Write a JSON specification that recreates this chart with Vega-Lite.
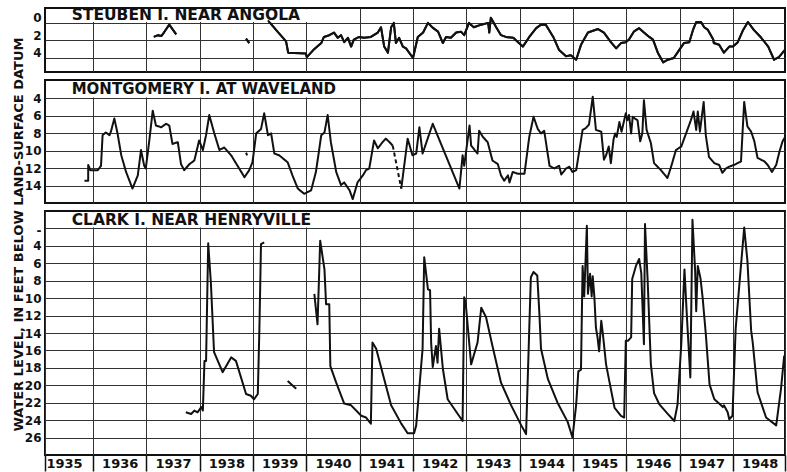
{
  "$schema": "https://vega.github.io/schema/vega-lite/v6.json",
  "background": "white",
  "padding": {"left": 10, "top": 7, "right": 3, "bottom": 0},
  "bounds": "flush",
  "spacing": 8,
  "config": {
    "view": {"stroke": "#111", "strokeWidth": 2},
    "axis": {"grid": true, "gridColor": "#333", "gridWidth": 1, "gridOpacity": 1, "labelFont": "DejaVu Sans", "labelFontWeight": "bold", "labelColor": "#111", "labelFontSize": 12, "titleFont": "DejaVu Sans", "titleColor": "#111", "labelOverlap": false}
  },
  "datasets": {
    "steuben": [
      {"year": 1937.14, "depth": 1.6, "seg": "a"}, {"year": 1937.22, "depth": 1.4, "seg": "a"}, {"year": 1937.28, "depth": 1.5, "seg": "a"}, {"year": 1937.33, "depth": 1.1, "seg": "a"}, {"year": 1937.43, "depth": 0.2, "seg": "a"}, {"year": 1937.50, "depth": 0.8, "seg": "a"}, {"year": 1937.56, "depth": 1.3, "seg": "a"},
      {"year": 1938.87, "depth": 1.8, "seg": "b"}, {"year": 1938.93, "depth": 2.3, "seg": "b"},
      {"year": 1939.28, "depth": -0.3, "seg": "c"}, {"year": 1939.46, "depth": 1.0, "seg": "c"}, {"year": 1939.62, "depth": 2.1, "seg": "c"}, {"year": 1939.66, "depth": 3.4, "seg": "c"}, {"year": 1939.99, "depth": 3.5, "seg": "c"}, {"year": 1940.01, "depth": 3.9, "seg": "c"},
      {"year": 1940.13, "depth": 3.1, "seg": "c"}, {"year": 1940.28, "depth": 2.3, "seg": "c"}, {"year": 1940.33, "depth": 1.6, "seg": "c"}, {"year": 1940.43, "depth": 1.4, "seg": "c"}, {"year": 1940.52, "depth": 1.1, "seg": "c"}, {"year": 1940.59, "depth": 1.7, "seg": "c"}, {"year": 1940.65, "depth": 1.4, "seg": "c"}, {"year": 1940.71, "depth": 2.2, "seg": "c"}, {"year": 1940.78, "depth": 1.7, "seg": "c"}, {"year": 1940.84, "depth": 2.7, "seg": "c"}, {"year": 1940.89, "depth": 1.9, "seg": "c"}, {"year": 1940.99, "depth": 1.6, "seg": "c"},
      {"year": 1941.08, "depth": 1.7, "seg": "c"}, {"year": 1941.21, "depth": 1.6, "seg": "c"}, {"year": 1941.34, "depth": 1.1, "seg": "c"}, {"year": 1941.40, "depth": 0.5, "seg": "c"}, {"year": 1941.46, "depth": 2.7, "seg": "c"}, {"year": 1941.53, "depth": 3.4, "seg": "c"}, {"year": 1941.59, "depth": 0.5, "seg": "c"}, {"year": 1941.64, "depth": 0.0, "seg": "c"}, {"year": 1941.68, "depth": 2.3, "seg": "c"}, {"year": 1941.74, "depth": 1.7, "seg": "c"}, {"year": 1941.81, "depth": 2.7, "seg": "c"}, {"year": 1941.87, "depth": 2.9, "seg": "c"},
      {"year": 1942.00, "depth": 4.0, "seg": "c"}, {"year": 1942.09, "depth": 1.6, "seg": "c"}, {"year": 1942.19, "depth": 1.1, "seg": "c"}, {"year": 1942.28, "depth": 0.0, "seg": "c"}, {"year": 1942.38, "depth": 0.6, "seg": "c"}, {"year": 1942.47, "depth": 1.0, "seg": "c"}, {"year": 1942.56, "depth": 2.3, "seg": "c"}, {"year": 1942.62, "depth": 1.6, "seg": "c"}, {"year": 1942.71, "depth": 1.7, "seg": "c"}, {"year": 1942.81, "depth": 1.1, "seg": "c"}, {"year": 1942.90, "depth": 1.0, "seg": "c"}, {"year": 1942.96, "depth": 1.4, "seg": "c"},
      {"year": 1943.05, "depth": 0.0, "seg": "c"}, {"year": 1943.14, "depth": 0.5, "seg": "c"}, {"year": 1943.28, "depth": 0.2, "seg": "c"}, {"year": 1943.41, "depth": 0.0, "seg": "c"}, {"year": 1943.43, "depth": 1.1, "seg": "c"}, {"year": 1943.46, "depth": -0.6, "seg": "c"}, {"year": 1943.56, "depth": 0.5, "seg": "c"}, {"year": 1943.65, "depth": 1.4, "seg": "c"}, {"year": 1943.74, "depth": 1.6, "seg": "c"}, {"year": 1943.88, "depth": 1.7, "seg": "c"}, {"year": 1943.97, "depth": 2.2, "seg": "c"},
      {"year": 1944.06, "depth": 2.7, "seg": "c"}, {"year": 1944.18, "depth": 1.6, "seg": "c"}, {"year": 1944.31, "depth": 0.6, "seg": "c"}, {"year": 1944.40, "depth": 0.2, "seg": "c"}, {"year": 1944.49, "depth": 0.2, "seg": "c"}, {"year": 1944.63, "depth": 1.6, "seg": "c"}, {"year": 1944.74, "depth": 3.1, "seg": "c"}, {"year": 1944.87, "depth": 3.8, "seg": "c"}, {"year": 1944.96, "depth": 3.7, "seg": "c"},
      {"year": 1945.06, "depth": 4.2, "seg": "c"}, {"year": 1945.15, "depth": 2.5, "seg": "c"}, {"year": 1945.28, "depth": 1.1, "seg": "c"}, {"year": 1945.47, "depth": 0.7, "seg": "c"}, {"year": 1945.58, "depth": 1.1, "seg": "c"}, {"year": 1945.71, "depth": 2.2, "seg": "c"}, {"year": 1945.81, "depth": 2.9, "seg": "c"}, {"year": 1945.90, "depth": 2.3, "seg": "c"}, {"year": 1945.99, "depth": 2.2, "seg": "c"},
      {"year": 1946.05, "depth": 1.9, "seg": "c"}, {"year": 1946.14, "depth": 1.0, "seg": "c"}, {"year": 1946.24, "depth": 0.6, "seg": "c"}, {"year": 1946.33, "depth": 1.1, "seg": "c"}, {"year": 1946.43, "depth": 1.6, "seg": "c"}, {"year": 1946.50, "depth": 1.9, "seg": "c"}, {"year": 1946.59, "depth": 3.4, "seg": "c"}, {"year": 1946.69, "depth": 4.5, "seg": "c"}, {"year": 1946.78, "depth": 4.2, "seg": "c"}, {"year": 1946.89, "depth": 4.0, "seg": "c"}, {"year": 1946.99, "depth": 3.1, "seg": "c"},
      {"year": 1947.08, "depth": 2.3, "seg": "c"}, {"year": 1947.18, "depth": 2.2, "seg": "c"}, {"year": 1947.25, "depth": 0.8, "seg": "c"}, {"year": 1947.31, "depth": -0.1, "seg": "c"}, {"year": 1947.40, "depth": -0.1, "seg": "c"}, {"year": 1947.46, "depth": 0.5, "seg": "c"}, {"year": 1947.53, "depth": 0.8, "seg": "c"}, {"year": 1947.63, "depth": 1.9, "seg": "c"}, {"year": 1947.64, "depth": 2.3, "seg": "c"}, {"year": 1947.74, "depth": 2.5, "seg": "c"}, {"year": 1947.83, "depth": 3.4, "seg": "c"}, {"year": 1947.93, "depth": 2.7, "seg": "c"},
      {"year": 1948.00, "depth": 2.7, "seg": "c"}, {"year": 1948.09, "depth": 2.2, "seg": "c"}, {"year": 1948.19, "depth": 0.8, "seg": "c"}, {"year": 1948.28, "depth": -0.1, "seg": "c"}, {"year": 1948.39, "depth": 0.8, "seg": "c"}, {"year": 1948.53, "depth": 1.7, "seg": "c"}, {"year": 1948.66, "depth": 2.7, "seg": "c"}, {"year": 1948.77, "depth": 4.2, "seg": "c"}, {"year": 1948.86, "depth": 3.9, "seg": "c"}, {"year": 1948.97, "depth": 3.1, "seg": "c"}
    ],
    "montgomery": [
      {"year": 1935.84, "depth": 13.4, "seg": "a", "kind": "measured"}, {"year": 1935.91, "depth": 13.4, "seg": "a", "kind": "measured"}, {"year": 1935.91, "depth": 11.6, "seg": "a", "kind": "measured"}, {"year": 1935.95, "depth": 12.2, "seg": "a", "kind": "measured"},
      {"year": 1936.09, "depth": 12.2, "seg": "a", "kind": "measured"}, {"year": 1936.15, "depth": 11.7, "seg": "a", "kind": "measured"}, {"year": 1936.18, "depth": 8.2, "seg": "a", "kind": "measured"}, {"year": 1936.24, "depth": 7.9, "seg": "a", "kind": "measured"}, {"year": 1936.31, "depth": 8.2, "seg": "a", "kind": "measured"}, {"year": 1936.34, "depth": 7.7, "seg": "a", "kind": "measured"}, {"year": 1936.40, "depth": 6.3, "seg": "a", "kind": "measured"}, {"year": 1936.46, "depth": 8.0, "seg": "a", "kind": "measured"}, {"year": 1936.53, "depth": 10.5, "seg": "a", "kind": "measured"}, {"year": 1936.62, "depth": 12.4, "seg": "a", "kind": "measured"}, {"year": 1936.74, "depth": 14.3, "seg": "a", "kind": "measured"}, {"year": 1936.84, "depth": 12.8, "seg": "a", "kind": "measured"}, {"year": 1936.90, "depth": 9.9, "seg": "a", "kind": "measured"}, {"year": 1936.96, "depth": 11.7, "seg": "a", "kind": "measured"}, {"year": 1936.99, "depth": 12.0, "seg": "a", "kind": "measured"},
      {"year": 1937.06, "depth": 8.6, "seg": "a", "kind": "measured"}, {"year": 1937.12, "depth": 5.4, "seg": "a", "kind": "measured"}, {"year": 1937.18, "depth": 7.1, "seg": "a", "kind": "measured"}, {"year": 1937.28, "depth": 7.3, "seg": "a", "kind": "measured"}, {"year": 1937.37, "depth": 6.9, "seg": "a", "kind": "measured"}, {"year": 1937.43, "depth": 7.1, "seg": "a", "kind": "measured"}, {"year": 1937.49, "depth": 9.2, "seg": "a", "kind": "measured"}, {"year": 1937.59, "depth": 9.0, "seg": "a", "kind": "measured"}, {"year": 1937.65, "depth": 11.5, "seg": "a", "kind": "measured"}, {"year": 1937.71, "depth": 12.2, "seg": "a", "kind": "measured"}, {"year": 1937.81, "depth": 11.5, "seg": "a", "kind": "measured"}, {"year": 1937.90, "depth": 11.1, "seg": "a", "kind": "measured"}, {"year": 1937.99, "depth": 8.8, "seg": "a", "kind": "measured"},
      {"year": 1938.06, "depth": 9.9, "seg": "a", "kind": "measured"}, {"year": 1938.12, "depth": 8.2, "seg": "a", "kind": "measured"}, {"year": 1938.18, "depth": 5.9, "seg": "a", "kind": "measured"}, {"year": 1938.27, "depth": 7.9, "seg": "a", "kind": "measured"}, {"year": 1938.37, "depth": 9.9, "seg": "a", "kind": "measured"}, {"year": 1938.46, "depth": 9.6, "seg": "a", "kind": "measured"}, {"year": 1938.59, "depth": 10.5, "seg": "a", "kind": "measured"}, {"year": 1938.71, "depth": 11.7, "seg": "a", "kind": "measured"}, {"year": 1938.84, "depth": 13.0, "seg": "a", "kind": "measured"}, {"year": 1938.93, "depth": 12.2, "seg": "a", "kind": "measured"}, {"year": 1938.99, "depth": 11.3, "seg": "a", "kind": "measured"},
      {"year": 1939.06, "depth": 8.0, "seg": "a", "kind": "measured"}, {"year": 1939.15, "depth": 7.5, "seg": "a", "kind": "measured"}, {"year": 1939.21, "depth": 5.7, "seg": "a", "kind": "measured"}, {"year": 1939.28, "depth": 8.2, "seg": "a", "kind": "measured"}, {"year": 1939.34, "depth": 8.0, "seg": "a", "kind": "measured"}, {"year": 1939.40, "depth": 10.3, "seg": "a", "kind": "measured"}, {"year": 1939.49, "depth": 10.5, "seg": "a", "kind": "measured"}, {"year": 1939.65, "depth": 11.3, "seg": "a", "kind": "measured"}, {"year": 1939.74, "depth": 12.8, "seg": "a", "kind": "measured"}, {"year": 1939.84, "depth": 14.3, "seg": "a", "kind": "measured"}, {"year": 1939.96, "depth": 14.9, "seg": "a", "kind": "measured"},
      {"year": 1940.09, "depth": 14.5, "seg": "a", "kind": "measured"}, {"year": 1940.18, "depth": 12.4, "seg": "a", "kind": "measured"}, {"year": 1940.28, "depth": 8.2, "seg": "a", "kind": "measured"}, {"year": 1940.34, "depth": 7.9, "seg": "a", "kind": "measured"}, {"year": 1940.40, "depth": 5.9, "seg": "a", "kind": "measured"}, {"year": 1940.46, "depth": 9.0, "seg": "a", "kind": "measured"}, {"year": 1940.56, "depth": 12.4, "seg": "a", "kind": "measured"}, {"year": 1940.65, "depth": 13.9, "seg": "a", "kind": "measured"}, {"year": 1940.71, "depth": 13.6, "seg": "a", "kind": "measured"}, {"year": 1940.81, "depth": 14.5, "seg": "a", "kind": "measured"}, {"year": 1940.87, "depth": 15.5, "seg": "a", "kind": "measured"}, {"year": 1940.96, "depth": 13.6, "seg": "a", "kind": "measured"},
      {"year": 1941.06, "depth": 12.8, "seg": "a", "kind": "measured"}, {"year": 1941.12, "depth": 12.2, "seg": "a", "kind": "measured"}, {"year": 1941.18, "depth": 12.0, "seg": "a", "kind": "measured"}, {"year": 1941.27, "depth": 8.8, "seg": "a", "kind": "measured"}, {"year": 1941.34, "depth": 9.7, "seg": "a", "kind": "measured"}, {"year": 1941.43, "depth": 9.0, "seg": "a", "kind": "measured"}, {"year": 1941.49, "depth": 8.6, "seg": "a", "kind": "measured"}, {"year": 1941.56, "depth": 9.0, "seg": "a", "kind": "measured"}, {"year": 1941.62, "depth": 9.4, "seg": "a", "kind": "measured"},
      {"year": 1941.62, "depth": 9.4, "seg": "b", "kind": "estimated"}, {"year": 1941.78, "depth": 14.3, "seg": "b", "kind": "estimated"},
      {"year": 1938.87, "depth": 10.2, "seg": "d", "kind": "measured"}, {"year": 1938.89, "depth": 10.5, "seg": "d", "kind": "measured"},
      {"year": 1941.78, "depth": 14.3, "seg": "c", "kind": "measured"}, {"year": 1941.90, "depth": 8.6, "seg": "c", "kind": "measured"}, {"year": 1941.99, "depth": 10.5, "seg": "c", "kind": "measured"},
      {"year": 1942.06, "depth": 10.3, "seg": "c", "kind": "measured"}, {"year": 1942.12, "depth": 7.3, "seg": "c", "kind": "measured"}, {"year": 1942.18, "depth": 10.3, "seg": "c", "kind": "measured"}, {"year": 1942.37, "depth": 6.9, "seg": "c", "kind": "measured"}, {"year": 1942.87, "depth": 14.3, "seg": "c", "kind": "measured"}, {"year": 1942.93, "depth": 10.5, "seg": "c", "kind": "measured"}, {"year": 1942.96, "depth": 11.7, "seg": "c", "kind": "measured"},
      {"year": 1943.06, "depth": 7.1, "seg": "c", "kind": "measured"}, {"year": 1943.09, "depth": 9.4, "seg": "c", "kind": "measured"}, {"year": 1943.21, "depth": 10.3, "seg": "c", "kind": "measured"}, {"year": 1943.24, "depth": 7.7, "seg": "c", "kind": "measured"}, {"year": 1943.31, "depth": 8.4, "seg": "c", "kind": "measured"}, {"year": 1943.40, "depth": 9.0, "seg": "c", "kind": "measured"}, {"year": 1943.49, "depth": 11.1, "seg": "c", "kind": "measured"}, {"year": 1943.59, "depth": 11.5, "seg": "c", "kind": "measured"}, {"year": 1943.65, "depth": 12.8, "seg": "c", "kind": "measured"}, {"year": 1943.71, "depth": 13.4, "seg": "c", "kind": "measured"}, {"year": 1943.78, "depth": 12.8, "seg": "c", "kind": "measured"}, {"year": 1943.81, "depth": 13.6, "seg": "c", "kind": "measured"}, {"year": 1943.87, "depth": 12.4, "seg": "c", "kind": "measured"}, {"year": 1943.96, "depth": 12.6, "seg": "c", "kind": "measured"},
      {"year": 1944.09, "depth": 12.6, "seg": "c", "kind": "measured"}, {"year": 1944.18, "depth": 8.4, "seg": "c", "kind": "measured"}, {"year": 1944.26, "depth": 6.1, "seg": "c", "kind": "measured"}, {"year": 1944.34, "depth": 7.5, "seg": "c", "kind": "measured"}, {"year": 1944.40, "depth": 8.0, "seg": "c", "kind": "measured"}, {"year": 1944.46, "depth": 7.7, "seg": "c", "kind": "measured"}, {"year": 1944.56, "depth": 11.7, "seg": "c", "kind": "measured"}, {"year": 1944.65, "depth": 12.0, "seg": "c", "kind": "measured"}, {"year": 1944.74, "depth": 11.7, "seg": "c", "kind": "measured"}, {"year": 1944.78, "depth": 12.7, "seg": "c", "kind": "measured"}, {"year": 1944.87, "depth": 12.0, "seg": "c", "kind": "measured"}, {"year": 1944.93, "depth": 11.8, "seg": "c", "kind": "measured"}, {"year": 1944.99, "depth": 12.4, "seg": "c", "kind": "measured"},
      {"year": 1945.06, "depth": 12.2, "seg": "c", "kind": "measured"}, {"year": 1945.12, "depth": 9.9, "seg": "c", "kind": "measured"}, {"year": 1945.18, "depth": 7.6, "seg": "c", "kind": "measured"}, {"year": 1945.24, "depth": 7.4, "seg": "c", "kind": "measured"}, {"year": 1945.30, "depth": 7.0, "seg": "c", "kind": "measured"}, {"year": 1945.37, "depth": 3.8, "seg": "c", "kind": "measured"}, {"year": 1945.43, "depth": 7.6, "seg": "c", "kind": "measured"}, {"year": 1945.53, "depth": 7.8, "seg": "c", "kind": "measured"}, {"year": 1945.58, "depth": 11.0, "seg": "c", "kind": "measured"}, {"year": 1945.62, "depth": 10.5, "seg": "c", "kind": "measured"}, {"year": 1945.67, "depth": 9.5, "seg": "c", "kind": "measured"}, {"year": 1945.71, "depth": 11.4, "seg": "c", "kind": "measured"}, {"year": 1945.76, "depth": 8.7, "seg": "c", "kind": "measured"}, {"year": 1945.79, "depth": 8.0, "seg": "c", "kind": "measured"}, {"year": 1945.82, "depth": 8.4, "seg": "c", "kind": "measured"}, {"year": 1945.87, "depth": 6.7, "seg": "c", "kind": "measured"}, {"year": 1945.91, "depth": 7.8, "seg": "c", "kind": "measured"}, {"year": 1945.96, "depth": 6.5, "seg": "c", "kind": "measured"}, {"year": 1945.99, "depth": 5.7, "seg": "c", "kind": "measured"},
      {"year": 1946.02, "depth": 6.5, "seg": "c", "kind": "measured"}, {"year": 1946.05, "depth": 5.9, "seg": "c", "kind": "measured"}, {"year": 1946.09, "depth": 8.0, "seg": "c", "kind": "measured"}, {"year": 1946.12, "depth": 6.1, "seg": "c", "kind": "measured"}, {"year": 1946.16, "depth": 6.3, "seg": "c", "kind": "measured"}, {"year": 1946.21, "depth": 6.5, "seg": "c", "kind": "measured"}, {"year": 1946.26, "depth": 8.9, "seg": "c", "kind": "measured"}, {"year": 1946.30, "depth": 8.0, "seg": "c", "kind": "measured"}, {"year": 1946.33, "depth": 4.2, "seg": "c", "kind": "measured"}, {"year": 1946.38, "depth": 7.6, "seg": "c", "kind": "measured"}, {"year": 1946.46, "depth": 9.1, "seg": "c", "kind": "measured"}, {"year": 1946.52, "depth": 11.4, "seg": "c", "kind": "measured"}, {"year": 1946.65, "depth": 12.2, "seg": "c", "kind": "measured"}, {"year": 1946.77, "depth": 13.1, "seg": "c", "kind": "measured"}, {"year": 1946.84, "depth": 11.8, "seg": "c", "kind": "measured"}, {"year": 1946.93, "depth": 9.9, "seg": "c", "kind": "measured"},
      {"year": 1947.03, "depth": 9.5, "seg": "c", "kind": "measured"}, {"year": 1947.12, "depth": 8.0, "seg": "c", "kind": "measured"}, {"year": 1947.21, "depth": 6.5, "seg": "c", "kind": "measured"}, {"year": 1947.26, "depth": 5.5, "seg": "c", "kind": "measured"}, {"year": 1947.31, "depth": 7.6, "seg": "c", "kind": "measured"}, {"year": 1947.34, "depth": 5.5, "seg": "c", "kind": "measured"}, {"year": 1947.38, "depth": 7.8, "seg": "c", "kind": "measured"}, {"year": 1947.45, "depth": 4.4, "seg": "c", "kind": "measured"}, {"year": 1947.49, "depth": 8.2, "seg": "c", "kind": "measured"}, {"year": 1947.55, "depth": 10.7, "seg": "c", "kind": "measured"}, {"year": 1947.65, "depth": 11.4, "seg": "c", "kind": "measured"}, {"year": 1947.74, "depth": 11.6, "seg": "c", "kind": "measured"}, {"year": 1947.80, "depth": 12.5, "seg": "c", "kind": "measured"}, {"year": 1947.87, "depth": 12.0, "seg": "c", "kind": "measured"}, {"year": 1947.93, "depth": 11.8, "seg": "c", "kind": "measured"},
      {"year": 1948.02, "depth": 11.6, "seg": "c", "kind": "measured"}, {"year": 1948.15, "depth": 11.2, "seg": "c", "kind": "measured"}, {"year": 1948.21, "depth": 4.4, "seg": "c", "kind": "measured"}, {"year": 1948.27, "depth": 7.2, "seg": "c", "kind": "measured"}, {"year": 1948.34, "depth": 7.8, "seg": "c", "kind": "measured"}, {"year": 1948.40, "depth": 8.9, "seg": "c", "kind": "measured"}, {"year": 1948.46, "depth": 10.8, "seg": "c", "kind": "measured"}, {"year": 1948.59, "depth": 11.2, "seg": "c", "kind": "measured"}, {"year": 1948.65, "depth": 11.6, "seg": "c", "kind": "measured"}, {"year": 1948.73, "depth": 12.4, "seg": "c", "kind": "measured"}, {"year": 1948.81, "depth": 11.6, "seg": "c", "kind": "measured"}, {"year": 1948.87, "depth": 10.1, "seg": "c", "kind": "measured"}, {"year": 1948.93, "depth": 8.9, "seg": "c", "kind": "measured"}, {"year": 1948.97, "depth": 8.5, "seg": "c", "kind": "measured"}
    ],
    "clark": [
      {"year": 1937.74, "depth": 23.1, "seg": "a"}, {"year": 1937.84, "depth": 23.3, "seg": "a"}, {"year": 1937.90, "depth": 22.9, "seg": "a"}, {"year": 1937.96, "depth": 23.1, "seg": "a"}, {"year": 1938.03, "depth": 22.5, "seg": "a"}, {"year": 1938.06, "depth": 22.9, "seg": "a"}, {"year": 1938.09, "depth": 17.2, "seg": "a"}, {"year": 1938.12, "depth": 17.2, "seg": "a"}, {"year": 1938.16, "depth": 3.7, "seg": "a"}, {"year": 1938.21, "depth": 8.2, "seg": "a"}, {"year": 1938.27, "depth": 16.2, "seg": "a"}, {"year": 1938.43, "depth": 18.5, "seg": "a"}, {"year": 1938.59, "depth": 16.8, "seg": "a"}, {"year": 1938.68, "depth": 17.2, "seg": "a"}, {"year": 1938.87, "depth": 21.0, "seg": "a"}, {"year": 1938.96, "depth": 21.2, "seg": "a"}, {"year": 1939.02, "depth": 21.6, "seg": "a"}, {"year": 1939.09, "depth": 21.0, "seg": "a"}, {"year": 1939.12, "depth": 13.5, "seg": "a"}, {"year": 1939.15, "depth": 3.8, "seg": "a"}, {"year": 1939.21, "depth": 3.6, "seg": "a"},
      {"year": 1939.65, "depth": 19.5, "seg": "b"}, {"year": 1939.81, "depth": 20.4, "seg": "b"},
      {"year": 1940.15, "depth": 9.5, "seg": "c"}, {"year": 1940.21, "depth": 13.0, "seg": "c"}, {"year": 1940.26, "depth": 3.4, "seg": "c"}, {"year": 1940.34, "depth": 6.7, "seg": "c"}, {"year": 1940.37, "depth": 10.7, "seg": "c"}, {"year": 1940.43, "depth": 10.7, "seg": "c"}, {"year": 1940.45, "depth": 17.8, "seg": "c"}, {"year": 1940.56, "depth": 19.7, "seg": "c"}, {"year": 1940.71, "depth": 22.1, "seg": "c"}, {"year": 1940.84, "depth": 22.3, "seg": "c"},
      {"year": 1941.03, "depth": 23.5, "seg": "c"}, {"year": 1941.12, "depth": 23.7, "seg": "c"}, {"year": 1941.21, "depth": 24.4, "seg": "c"}, {"year": 1941.24, "depth": 15.1, "seg": "c"}, {"year": 1941.31, "depth": 15.8, "seg": "c"}, {"year": 1941.46, "depth": 19.3, "seg": "c"}, {"year": 1941.59, "depth": 22.3, "seg": "c"}, {"year": 1941.78, "depth": 24.4, "seg": "c"}, {"year": 1941.90, "depth": 25.5, "seg": "c"},
      {"year": 1942.02, "depth": 25.5, "seg": "c"}, {"year": 1942.06, "depth": 24.6, "seg": "c"}, {"year": 1942.18, "depth": 15.8, "seg": "c"}, {"year": 1942.21, "depth": 5.3, "seg": "c"}, {"year": 1942.28, "depth": 9.0, "seg": "c"}, {"year": 1942.32, "depth": 9.1, "seg": "c"}, {"year": 1942.34, "depth": 15.1, "seg": "c"}, {"year": 1942.37, "depth": 17.9, "seg": "c"}, {"year": 1942.43, "depth": 15.5, "seg": "c"}, {"year": 1942.46, "depth": 17.4, "seg": "c"}, {"year": 1942.49, "depth": 13.5, "seg": "c"}, {"year": 1942.56, "depth": 18.1, "seg": "c"}, {"year": 1942.65, "depth": 21.6, "seg": "c"}, {"year": 1942.84, "depth": 23.3, "seg": "c"}, {"year": 1942.93, "depth": 24.1, "seg": "c"}, {"year": 1942.96, "depth": 9.9, "seg": "c"}, {"year": 1942.99, "depth": 10.7, "seg": "c"},
      {"year": 1943.09, "depth": 17.6, "seg": "c"}, {"year": 1943.21, "depth": 15.1, "seg": "c"}, {"year": 1943.28, "depth": 11.1, "seg": "c"}, {"year": 1943.37, "depth": 12.2, "seg": "c"}, {"year": 1943.49, "depth": 15.5, "seg": "c"}, {"year": 1943.65, "depth": 19.7, "seg": "c"}, {"year": 1943.84, "depth": 22.3, "seg": "c"},
      {"year": 1944.03, "depth": 24.6, "seg": "c"}, {"year": 1944.12, "depth": 25.6, "seg": "c"}, {"year": 1944.18, "depth": 13.5, "seg": "c"}, {"year": 1944.21, "depth": 7.6, "seg": "c"}, {"year": 1944.26, "depth": 7.0, "seg": "c"}, {"year": 1944.33, "depth": 7.4, "seg": "c"}, {"year": 1944.37, "depth": 11.8, "seg": "c"}, {"year": 1944.40, "depth": 15.8, "seg": "c"}, {"year": 1944.53, "depth": 19.3, "seg": "c"}, {"year": 1944.71, "depth": 22.0, "seg": "c"}, {"year": 1944.90, "depth": 24.2, "seg": "c"}, {"year": 1944.99, "depth": 26.0, "seg": "c"},
      {"year": 1945.06, "depth": 22.2, "seg": "c"}, {"year": 1945.10, "depth": 18.4, "seg": "c"}, {"year": 1945.15, "depth": 18.2, "seg": "c"}, {"year": 1945.18, "depth": 6.3, "seg": "c"}, {"year": 1945.21, "depth": 9.8, "seg": "c"}, {"year": 1945.26, "depth": 1.7, "seg": "c"}, {"year": 1945.28, "depth": 9.5, "seg": "c"}, {"year": 1945.32, "depth": 7.2, "seg": "c"}, {"year": 1945.35, "depth": 9.8, "seg": "c"}, {"year": 1945.37, "depth": 7.5, "seg": "c"}, {"year": 1945.40, "depth": 9.8, "seg": "c"}, {"year": 1945.43, "depth": 13.4, "seg": "c"}, {"year": 1945.46, "depth": 14.5, "seg": "c"}, {"year": 1945.49, "depth": 16.1, "seg": "c"}, {"year": 1945.53, "depth": 12.6, "seg": "c"}, {"year": 1945.56, "depth": 14.1, "seg": "c"}, {"year": 1945.62, "depth": 17.6, "seg": "c"}, {"year": 1945.68, "depth": 19.5, "seg": "c"}, {"year": 1945.78, "depth": 22.6, "seg": "c"}, {"year": 1945.90, "depth": 23.5, "seg": "c"}, {"year": 1945.96, "depth": 23.7, "seg": "c"}, {"year": 1945.99, "depth": 14.9, "seg": "c"},
      {"year": 1946.03, "depth": 14.9, "seg": "c"}, {"year": 1946.09, "depth": 14.5, "seg": "c"}, {"year": 1946.11, "depth": 7.8, "seg": "c"}, {"year": 1946.18, "depth": 6.3, "seg": "c"}, {"year": 1946.24, "depth": 5.5, "seg": "c"}, {"year": 1946.28, "depth": 7.1, "seg": "c"}, {"year": 1946.33, "depth": 15.3, "seg": "c"}, {"year": 1946.35, "depth": 1.5, "seg": "c"}, {"year": 1946.40, "depth": 8.0, "seg": "c"}, {"year": 1946.46, "depth": 17.6, "seg": "c"}, {"year": 1946.52, "depth": 20.9, "seg": "c"}, {"year": 1946.62, "depth": 22.2, "seg": "c"}, {"year": 1946.78, "depth": 23.3, "seg": "c"}, {"year": 1946.90, "depth": 24.1, "seg": "c"}, {"year": 1946.96, "depth": 22.2, "seg": "c"},
      {"year": 1947.03, "depth": 15.3, "seg": "c"}, {"year": 1947.09, "depth": 6.7, "seg": "c"}, {"year": 1947.14, "depth": 12.6, "seg": "c"}, {"year": 1947.20, "depth": 19.1, "seg": "c"}, {"year": 1947.24, "depth": 1.0, "seg": "c"}, {"year": 1947.29, "depth": 6.9, "seg": "c"}, {"year": 1947.31, "depth": 11.5, "seg": "c"}, {"year": 1947.34, "depth": 6.3, "seg": "c"}, {"year": 1947.39, "depth": 7.7, "seg": "c"}, {"year": 1947.43, "depth": 9.9, "seg": "c"}, {"year": 1947.49, "depth": 14.1, "seg": "c"}, {"year": 1947.56, "depth": 19.9, "seg": "c"}, {"year": 1947.65, "depth": 21.6, "seg": "c"}, {"year": 1947.74, "depth": 22.1, "seg": "c"}, {"year": 1947.81, "depth": 22.5, "seg": "c"}, {"year": 1947.83, "depth": 22.3, "seg": "c"}, {"year": 1947.90, "depth": 23.1, "seg": "c"}, {"year": 1947.93, "depth": 23.9, "seg": "c"}, {"year": 1947.99, "depth": 23.5, "seg": "c"},
      {"year": 1948.05, "depth": 13.5, "seg": "c"}, {"year": 1948.12, "depth": 8.4, "seg": "c"}, {"year": 1948.21, "depth": 1.9, "seg": "c"}, {"year": 1948.27, "depth": 5.7, "seg": "c"}, {"year": 1948.34, "depth": 13.7, "seg": "c"}, {"year": 1948.37, "depth": 15.1, "seg": "c"}, {"year": 1948.46, "depth": 20.8, "seg": "c"}, {"year": 1948.62, "depth": 23.7, "seg": "c"}, {"year": 1948.81, "depth": 24.6, "seg": "c"}, {"year": 1948.90, "depth": 20.4, "seg": "c"}, {"year": 1948.96, "depth": 16.6, "seg": "c"}
    ]
  },
  "vconcat": [
    {
      "width": 740, "height": 64,
      "layer": [
        {"data": {"name": "steuben"}, "mark": {"type": "line", "color": "#111", "strokeWidth": 2, "strokeJoin": "round"},
         "encoding": {"x": {"field": "year", "type": "quantitative", "scale": {"domain": [1935.1, 1948.975], "nice": false, "zero": false},
                            "axis": {"values": [1936, 1937, 1938, 1939, 1940, 1941, 1942, 1943, 1944, 1945, 1946, 1947, 1948], "labels": false, "ticks": false, "domain": false, "grid": true, "title": null}},
                      "y": {"field": "depth", "type": "quantitative", "scale": {"domain": [-1.7, 5.6], "reverse": true, "nice": false, "zero": false},
                            "axis": {"values": [0, 2, 4], "grid": true, "ticks": false, "domain": false, "title": null, "labelPadding": 4, "labelOffset": -5, "labelOverlap": false}},
                      "detail": {"field": "seg"}}},
        {"data": {"values": [{}]}, "mark": {"type": "rect", "color": "white"},
         "encoding": {"x": {"datum": 1935.13, "type": "quantitative", "axis": {"values": [1936, 1937, 1938, 1939, 1940, 1941, 1942, 1943, 1944, 1945, 1946, 1947, 1948], "labels": false, "ticks": false, "domain": false, "grid": true, "title": null}}, "x2": {"datum": 1940.9},
                      "y": {"datum": -1.55, "type": "quantitative", "axis": {"values": [0, 2, 4], "grid": true, "ticks": false, "domain": false, "title": null, "labelPadding": 4, "labelOffset": -5, "labelOverlap": false}}, "y2": {"datum": -0.1}}},
        {"data": {"values": [{"station": "STEUBEN I. NEAR ANGOLA"}]}, "mark": {"type": "text", "align": "left", "baseline": "middle", "font": "DejaVu Sans", "fontSize": 15.5, "fontWeight": "bold", "color": "#111"},
         "encoding": {"x": {"datum": 1935.6, "type": "quantitative", "axis": {"values": [1936, 1937, 1938, 1939, 1940, 1941, 1942, 1943, 1944, 1945, 1946, 1947, 1948], "labels": false, "ticks": false, "domain": false, "grid": true, "title": null}},
                      "y": {"datum": -0.86, "type": "quantitative", "axis": {"values": [0, 2, 4], "grid": true, "ticks": false, "domain": false, "title": null, "labelPadding": 4, "labelOffset": -5, "labelOverlap": false}},
                      "text": {"field": "station"}}},
        {"data": {"name": "steuben"}, "mark": {"type": "line", "color": "#111", "strokeWidth": 2, "strokeJoin": "round"},
         "encoding": {"x": {"field": "year", "type": "quantitative", "axis": {"values": [1936, 1937, 1938, 1939, 1940, 1941, 1942, 1943, 1944, 1945, 1946, 1947, 1948], "labels": false, "ticks": false, "domain": false, "grid": true, "title": null}},
                      "y": {"field": "depth", "type": "quantitative", "axis": {"values": [0, 2, 4], "grid": true, "ticks": false, "domain": false, "title": null, "labelPadding": 4, "labelOffset": -5, "labelOverlap": false}},
                      "detail": {"field": "seg"}}}
      ]
    },
    {
      "width": 740, "height": 123,
      "layer": [
        {"data": {"name": "montgomery"}, "mark": {"type": "line", "color": "#111", "strokeWidth": 2, "strokeJoin": "round"},
         "encoding": {"x": {"field": "year", "type": "quantitative", "scale": {"domain": [1935.1, 1948.975], "nice": false, "zero": false},
                            "axis": {"values": [1936, 1937, 1938, 1939, 1940, 1941, 1942, 1943, 1944, 1945, 1946, 1947, 1948], "labels": false, "ticks": false, "domain": false, "grid": true, "title": null}},
                      "y": {"field": "depth", "type": "quantitative", "scale": {"domain": [1.9, 15.95], "reverse": true, "nice": false, "zero": false},
                            "axis": {"values": [4, 6, 8, 10, 12, 14], "grid": true, "ticks": false, "domain": false, "labelPadding": 4, "labelOverlap": false,
                                     "title": "WATER LEVEL, IN FEET BELOW LAND-SURFACE DATUM", "titleX": -27, "titleY": 154, "titleAngle": 270, "titleAlign": "center", "titleBaseline": "middle", "titleFontSize": 13, "titleFontWeight": "bold"}},
                      "detail": {"field": "seg"},
                      "strokeDash": {"field": "kind", "type": "nominal", "scale": {"domain": ["measured", "estimated"], "range": [[1, 0], [4, 3]]}, "legend": null}}},
        {"data": {"values": [{}]}, "mark": {"type": "rect", "color": "white"},
         "encoding": {"x": {"datum": 1935.13, "type": "quantitative", "axis": {"values": [1936, 1937, 1938, 1939, 1940, 1941, 1942, 1943, 1944, 1945, 1946, 1947, 1948], "labels": false, "ticks": false, "domain": false, "grid": true, "title": null}}, "x2": {"datum": 1940.9},
                      "y": {"datum": 2.05, "type": "quantitative", "axis": {"values": [4, 6, 8, 10, 12, 14], "grid": true, "ticks": false, "domain": false, "labelPadding": 4, "labelOverlap": false,
                                     "title": "WATER LEVEL, IN FEET BELOW LAND-SURFACE DATUM", "titleX": -27, "titleY": 154, "titleAngle": 270, "titleAlign": "center", "titleBaseline": "middle", "titleFontSize": 13, "titleFontWeight": "bold"}}, "y2": {"datum": 3.9}}},
        {"data": {"values": [{"station": "MONTGOMERY I. AT WAVELAND"}]}, "mark": {"type": "text", "align": "left", "baseline": "middle", "font": "DejaVu Sans", "fontSize": 15, "fontWeight": "bold", "color": "#111"},
         "encoding": {"x": {"datum": 1935.6, "type": "quantitative", "axis": {"values": [1936, 1937, 1938, 1939, 1940, 1941, 1942, 1943, 1944, 1945, 1946, 1947, 1948], "labels": false, "ticks": false, "domain": false, "grid": true, "title": null}},
                      "y": {"datum": 2.95, "type": "quantitative", "axis": {"values": [4, 6, 8, 10, 12, 14], "grid": true, "ticks": false, "domain": false, "labelPadding": 4, "labelOverlap": false,
                                     "title": "WATER LEVEL, IN FEET BELOW LAND-SURFACE DATUM", "titleX": -27, "titleY": 154, "titleAngle": 270, "titleAlign": "center", "titleBaseline": "middle", "titleFontSize": 13, "titleFontWeight": "bold"}},
                      "text": {"field": "station"}}}
      ]
    },
    {
      "width": 740, "height": 244,
      "layer": [
        {"data": {"name": "clark"}, "mark": {"type": "line", "color": "#111", "strokeWidth": 2, "strokeJoin": "round"},
         "encoding": {"x": {"field": "year", "type": "quantitative", "scale": {"domain": [1935.1, 1948.975], "nice": false, "zero": false},
                            "axis": {"values": [1935.1, 1936, 1937, 1938, 1939, 1940, 1941, 1942, 1943, 1944, 1945, 1946, 1947, 1948, 1948.975], "grid": true, "domain": false, "title": null,
                                     "ticks": true, "tickSize": 16, "tickColor": "#111", "tickWidth": 1.5,
                                     "labelExpr": "datum.value > 1948.5 ? '' : '' + floor(datum.value)",
                                     "labelOffset": {"condition": {"test": "datum.value < 1935.5", "value": 19}, "value": 26.7},
                                     "labelBaseline": "middle", "labelPadding": -8, "labelFontSize": 13, "labelFlush": false, "labelOverlap": false, "labelBound": false}},
                      "y": {"field": "depth", "type": "quantitative", "scale": {"domain": [0, 28], "reverse": true, "nice": false, "zero": false},
                            "axis": {"values": [2, 4, 6, 8, 10, 12, 14, 16, 18, 20, 22, 24, 26], "grid": true, "ticks": false, "domain": false, "title": null, "labelPadding": 4, "labelOverlap": false,
                                     "labelExpr": "datum.value == 2 ? '-' : datum.label",
                                     "labelOffset": {"condition": {"test": "datum.value == 2", "value": 2}, "value": 0}}},
                      "detail": {"field": "seg"}}},
        {"data": {"values": [{}]}, "mark": {"type": "rect", "color": "white"},
         "encoding": {"x": {"datum": 1935.13, "type": "quantitative", "axis": {"values": [1935.1, 1936, 1937, 1938, 1939, 1940, 1941, 1942, 1943, 1944, 1945, 1946, 1947, 1948, 1948.975], "grid": true, "domain": false, "title": null,
                                     "ticks": true, "tickSize": 16, "tickColor": "#111", "tickWidth": 1.5,
                                     "labelExpr": "datum.value > 1948.5 ? '' : '' + floor(datum.value)",
                                     "labelOffset": {"condition": {"test": "datum.value < 1935.5", "value": 19}, "value": 26.7},
                                     "labelBaseline": "middle", "labelPadding": -8, "labelFontSize": 13, "labelFlush": false, "labelOverlap": false, "labelBound": false}}, "x2": {"datum": 1940.9},
                      "y": {"datum": 0.15, "type": "quantitative", "axis": {"values": [2, 4, 6, 8, 10, 12, 14, 16, 18, 20, 22, 24, 26], "grid": true, "ticks": false, "domain": false, "title": null, "labelPadding": 4, "labelOverlap": false,
                                     "labelExpr": "datum.value == 2 ? '-' : datum.label",
                                     "labelOffset": {"condition": {"test": "datum.value == 2", "value": 2}, "value": 0}}}, "y2": {"datum": 1.9}}},
        {"data": {"values": [{"station": "CLARK I. NEAR HENRYVILLE"}]}, "mark": {"type": "text", "align": "left", "baseline": "middle", "font": "DejaVu Sans", "fontSize": 15.5, "fontWeight": "bold", "color": "#111"},
         "encoding": {"x": {"datum": 1935.6, "type": "quantitative", "axis": {"values": [1935.1, 1936, 1937, 1938, 1939, 1940, 1941, 1942, 1943, 1944, 1945, 1946, 1947, 1948, 1948.975], "grid": true, "domain": false, "title": null,
                                     "ticks": true, "tickSize": 16, "tickColor": "#111", "tickWidth": 1.5,
                                     "labelExpr": "datum.value > 1948.5 ? '' : '' + floor(datum.value)",
                                     "labelOffset": {"condition": {"test": "datum.value < 1935.5", "value": 19}, "value": 26.7},
                                     "labelBaseline": "middle", "labelPadding": -8, "labelFontSize": 13, "labelFlush": false, "labelOverlap": false, "labelBound": false}},
                      "y": {"datum": 1.0, "type": "quantitative", "axis": {"values": [2, 4, 6, 8, 10, 12, 14, 16, 18, 20, 22, 24, 26], "grid": true, "ticks": false, "domain": false, "title": null, "labelPadding": 4, "labelOverlap": false,
                                     "labelExpr": "datum.value == 2 ? '-' : datum.label",
                                     "labelOffset": {"condition": {"test": "datum.value == 2", "value": 2}, "value": 0}}},
                      "text": {"field": "station"}}}
      ]
    }
  ]
}
